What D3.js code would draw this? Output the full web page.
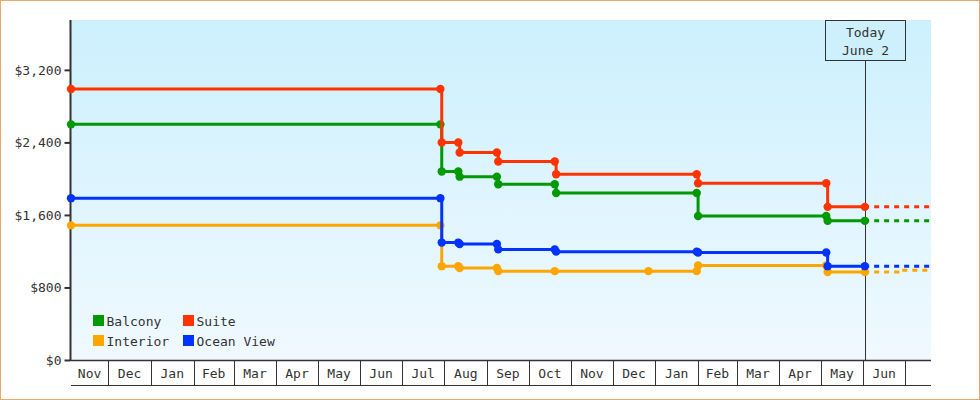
<!DOCTYPE html>
<html>
<head>
<meta charset="utf-8">
<script src="https://cdn.jsdelivr.net/npm/d3@7"></script>
<style>
  html, body { margin: 0; padding: 0; background: #fff; }
  svg { display: block; }
  text { font-family: "DejaVu Sans Mono", "Liberation Mono", monospace; font-size: 13px; fill: #333; }
</style>
</head>
<body>
<svg id="chart" width="980" height="400"></svg>
<script>
// ---------- data ----------
const seriesNames = ["Balcony", "Interior", "Ocean View", "Suite"];
const seriesColors = ["#009900", "#ffa500", "#0033ff", "#ff3300"];
const legendOrder = ["Balcony", "Suite", "Interior", "Ocean View"];

const balconyDates = ["2015-11-04","2016-07-29","2016-07-30","2016-08-11","2016-08-12","2016-09-08","2016-09-09","2016-10-20","2016-10-21","2017-01-31","2017-02-01","2017-05-05","2017-05-06","2017-06-02"];
const balconyPrices = [2599, 2599, 2079, 2079, 2022, 2022, 1939, 1939, 1842, 1842, 1589, 1589, 1535, 1535];

const interiorDates = ["2015-11-04","2016-07-29","2016-07-30","2016-08-11","2016-08-12","2016-09-08","2016-09-09","2016-10-20","2016-12-27","2017-01-31","2017-02-01","2017-05-05","2017-05-06","2017-06-02"];
const interiorPrices = [1485, 1485, 1035, 1035, 1015, 1015, 980, 980, 980, 980, 1043, 1043, 970, 970];

const oceanViewDates = ["2015-11-04","2016-07-29","2016-07-30","2016-08-11","2016-08-12","2016-09-08","2016-09-09","2016-10-20","2016-10-21","2017-01-31","2017-02-01","2017-05-05","2017-05-06","2017-06-02"];
const oceanViewPrices = [1785, 1785, 1295, 1295, 1279, 1279, 1220, 1220, 1195, 1195, 1185, 1185, 1035, 1035];

const suiteDates = ["2015-11-04","2016-07-29","2016-07-30","2016-08-11","2016-08-12","2016-09-08","2016-09-09","2016-10-20","2016-10-21","2017-01-31","2017-02-01","2017-05-05","2017-05-06","2017-06-02"];
const suitePrices = [2989, 2989, 2399, 2399, 2289, 2289, 2189, 2189, 2049, 2049, 1949, 1949, 1689, 1689];

// forecast after today (dashed)
const forecastDates = ["2017-06-02", "2017-06-26", "2017-07-20"];
const balconyForecast = [1535, 1535, 1535];
const interiorForecast = [970, 990, 990];
const oceanViewForecast = [1035, 1035, 1035];
const suiteForecast = [1689, 1689, 1689];

const monthLabels = ["Nov","Dec","Jan","Feb","Mar","Apr","May","Jun","Jul","Aug","Sep","Oct","Nov","Dec","Jan","Feb","Mar","Apr","May","Jun"];
const yTickValues = [0, 800, 1600, 2400, 3200];
const domainStart = "2015-11-04";
const domainEnd = "2017-07-20";
const todayDate = "2017-06-02";
const todayLabel = ["Today", "June 2"];

// ---------- build ----------
const parse = d3.utcParse("%Y-%m-%d");
const mk = (ds, vs) => ds.map((d, i) => ({ date: parse(d), value: vs[i] }));
const seriesData = {
  "Balcony": mk(balconyDates, balconyPrices),
  "Interior": mk(interiorDates, interiorPrices),
  "Ocean View": mk(oceanViewDates, oceanViewPrices),
  "Suite": mk(suiteDates, suitePrices)
};
const forecastData = {
  "Balcony": mk(forecastDates, balconyForecast),
  "Interior": mk(forecastDates, interiorForecast),
  "Ocean View": mk(forecastDates, oceanViewForecast),
  "Suite": mk(forecastDates, suiteForecast)
};
const color = d3.scaleOrdinal(seriesNames, seriesColors);

const L = 71, R = 931, T = 20, B = 360;
const svg = d3.select("#chart");

const x = d3.scaleUtc().domain([parse(domainStart), parse(domainEnd)]).range([L, R]);
const y = d3.scaleLinear().domain([0, 3750]).range([B, T]);

// outer border
svg.append("rect").attr("x", 0.5).attr("y", 0.5).attr("width", 979).attr("height", 399)
  .attr("fill", "#fff").attr("stroke", "#e8a966").attr("stroke-width", 1);

// background gradient
const defs = svg.append("defs");
const grad = defs.append("linearGradient").attr("id", "bg").attr("x1", 0).attr("y1", 0).attr("x2", 0).attr("y2", 1);
grad.append("stop").attr("offset", "0%").attr("stop-color", "#ccf0fd");
grad.append("stop").attr("offset", "100%").attr("stop-color", "#f0f9ff");
svg.append("rect").attr("x", L).attr("y", T).attr("width", R - L).attr("height", B - T).attr("fill", "url(#bg)");

// y axis
const yAxis = d3.axisLeft(y).tickValues(yTickValues).tickSize(6).tickPadding(3)
  .tickFormat(d => "$" + d3.format(",")(d));
const gy = svg.append("g").attr("transform", `translate(${L - 0.5},0)`).call(yAxis);
gy.select(".domain").remove();
gy.selectAll(".tick line").attr("stroke", "#333").attr("stroke-width", 2);
gy.selectAll(".tick text").attr("fill", "#333").style("font-family", "DejaVu Sans Mono").style("font-size", "13px");
svg.append("line").attr("x1", L - 0.5).attr("x2", L - 0.5).attr("y1", T).attr("y2", B + 1)
  .attr("stroke", "#333").attr("stroke-width", 2);

// x axis: month boxes
const monthStarts = d3.utcMonth.range(x.domain()[0], x.domain()[1]);
const bounds = [x.domain()[0], ...monthStarts.filter(d => d > x.domain()[0]), x.domain()[1]];
const gx = svg.append("g");
gx.append("line").attr("x1", L).attr("x2", R).attr("y1", B + 0.5).attr("y2", B + 0.5).attr("stroke", "#333").attr("stroke-width", 1.5);
gx.append("line").attr("x1", L).attr("x2", R).attr("y1", 385.5).attr("y2", 385.5).attr("stroke", "#333").attr("stroke-width", 1);
gx.selectAll("line.sep").data(monthStarts.filter(d => d > x.domain()[0]))
  .join("line").attr("class", "sep")
  .attr("x1", d => Math.round(x(d)) + 0.5).attr("x2", d => Math.round(x(d)) + 0.5)
  .attr("y1", B).attr("y2", 385).attr("stroke", "#333").attr("stroke-width", 1);
const cells = [];
for (let i = 0; i < bounds.length - 1; i++) cells.push([bounds[i], bounds[i + 1]]);
gx.selectAll("text.mlab").data(cells.slice(0, monthLabels.length))
  .join("text").attr("class", "mlab")
  .attr("x", (d) => (x(d[0]) + x(d[1])) / 2)
  .attr("y", 378)
  .attr("text-anchor", "middle")
  .text((d, i) => monthLabels[i]);

// today marker
const tx = Math.round(x(parse(todayDate))) + 0.5;
svg.append("line").attr("x1", tx).attr("x2", tx).attr("y1", 60.5).attr("y2", B)
  .attr("stroke", "#333").attr("stroke-width", 1);
svg.append("rect").attr("x", tx - 40).attr("y", 20.5).attr("width", 80).attr("height", 40)
  .attr("fill", "#cdf0fc").attr("stroke", "#333").attr("stroke-width", 1);
svg.selectAll("text.today").data(todayLabel).join("text").attr("class", "today")
  .attr("x", tx).attr("y", (d, i) => 36.5 + i * 18.3).attr("text-anchor", "middle").text(d => d);

// lines
const line = d3.line().x(d => x(d.date)).y(d => y(d.value)).curve(d3.curveStepAfter);
const gl = svg.append("g");
seriesNames.forEach(name => {
  const c = color(name);
  gl.append("path").datum(forecastData[name]).attr("d", line)
    .attr("fill", "none").attr("stroke", c).attr("stroke-width", 3)
    .attr("stroke-dasharray", "5,5").attr("stroke-dashoffset", 0.7);
  gl.append("path").datum(seriesData[name]).attr("d", line)
    .attr("fill", "none").attr("stroke", c).attr("stroke-width", 3);
  gl.selectAll(null).data(seriesData[name]).join("circle")
    .attr("cx", d => x(d.date)).attr("cy", d => y(d.value)).attr("r", 4.2).attr("fill", c);
});

// legend
const lg = svg.append("g");
legendOrder.forEach((name, i) => {
  const col = i % 2, row = Math.floor(i / 2);
  const lx = 93 + col * 90, ly = 315 + row * 20;
  lg.append("rect").attr("x", lx).attr("y", ly).attr("width", 11).attr("height", 11).attr("fill", color(name));
  lg.append("text").attr("x", lx + 13.5).attr("y", ly + 10.5).text(name);
});
</script>
</body>
</html>
